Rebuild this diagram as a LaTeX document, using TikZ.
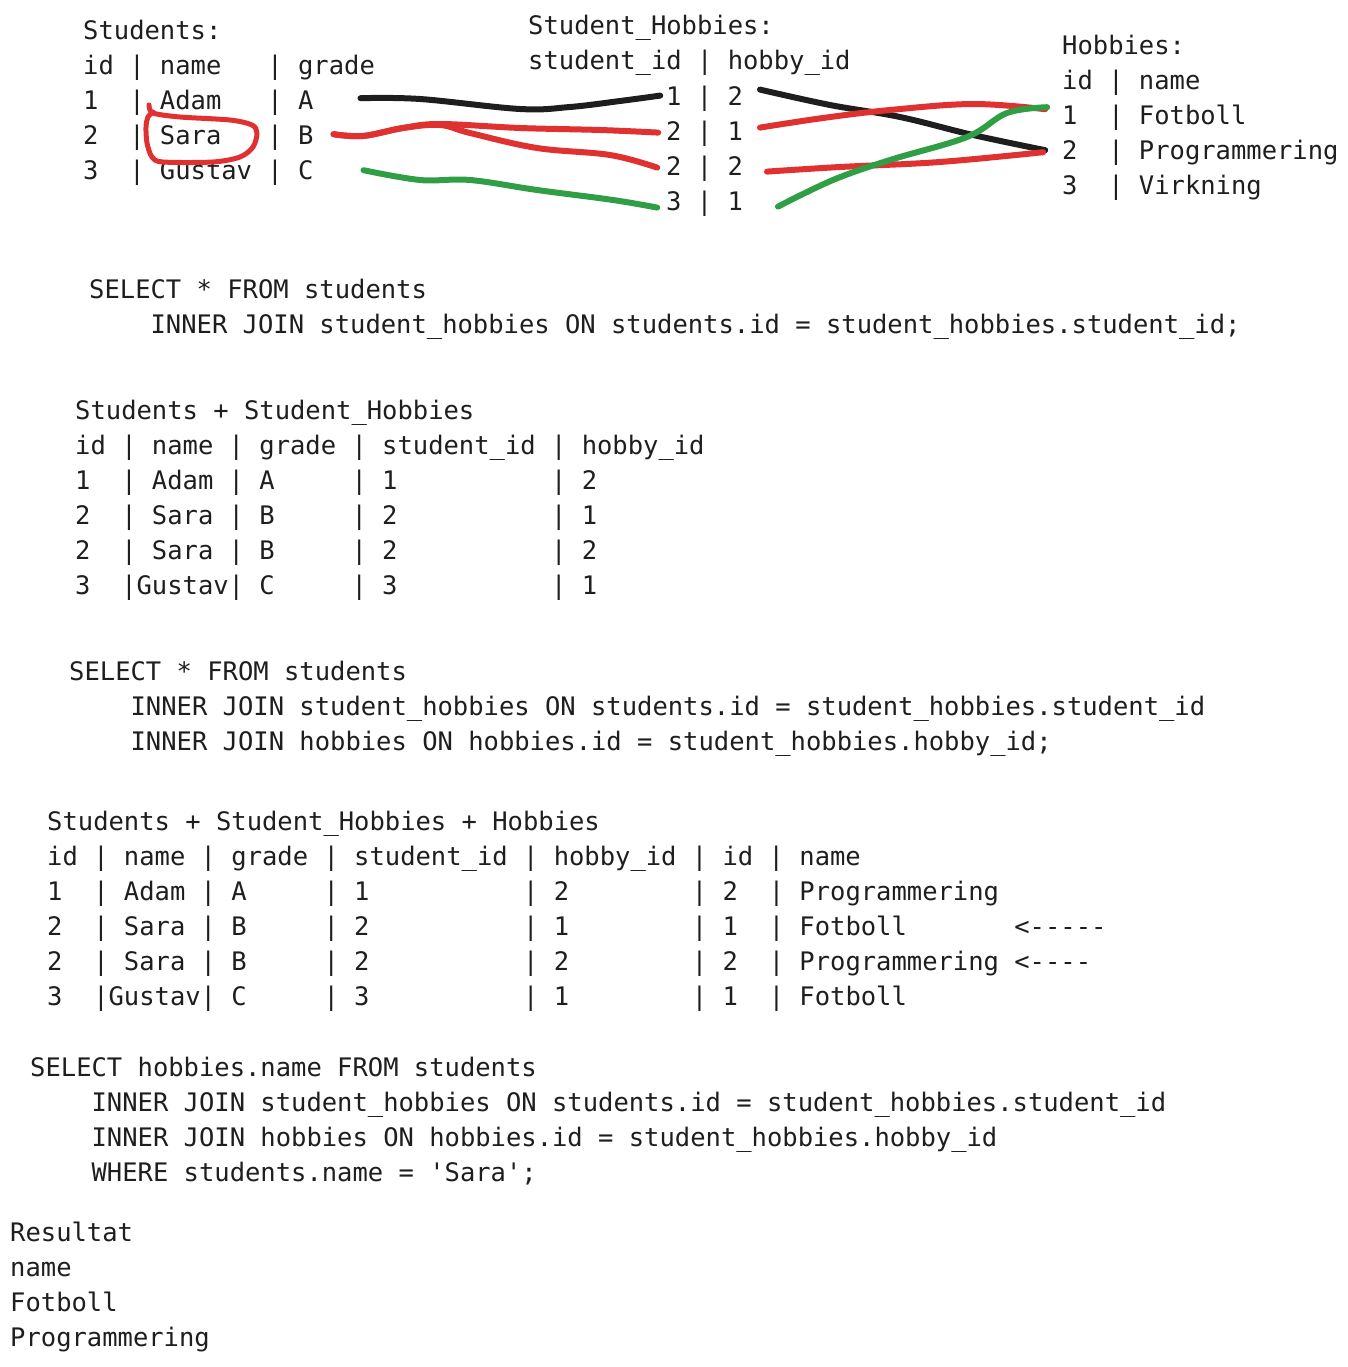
\documentclass[tikz,border=0pt]{standalone}
\usepackage{fontspec}
\setmonofont{DejaVu Sans Mono}
\usepackage{tikz}
\usetikzlibrary{matrix, positioning}
\definecolor{ink}{HTML}{1E1E1E}
\definecolor{inkred}{HTML}{E03131}
\definecolor{inkgreen}{HTML}{2F9E44}
\newcommand{\us}{\char95\relax}
\tikzset{
		line nodes/.style={
			anchor=base west,
			inner sep=0pt,
			outer sep=0pt,
			text height=26pt,
			text depth=9pt,
			text=ink,
			font=\ttfamily\fontsize{25.5}{35}\selectfont\frenchspacing
		},
		listing/.style={
			matrix of nodes,
			anchor=north west,
			inner sep=0pt,
			row sep=0pt,
			nodes={
				line nodes
			}
		},
		scribble/.style={
			line width=6pt,
			line cap=round,
			line join=round
		}
	}
\begin{document}
\begin{tikzpicture}[x=1pt, y=-1pt]
		\useasboundingbox (0,0) rectangle (1348,1367);
		\matrix (stu) [listing] at (83,13.5)
			{ Students: \\
			  id | name~~~| grade \\
			  1~~| Adam~~~| A \\
			  2~~| Sara~~~| B \\
			  3~~| Gustav | C \\ };
		\matrix (sh) [listing] at (528,8.5)
			{ Student\us Hobbies: \\
			  student\us id | hobby\us id \\ };
		\matrix (shr) [listing, below right=0pt and 138pt of sh.south west]
			{ 1 | 2 \\
			  2 | 1 \\
			  2 | 2 \\
			  3 | 1 \\ };
		\matrix (hob) [listing] at (1062,28.5)
			{ Hobbies: \\
			  id | name \\
			  1~~| Fotboll \\
			  2~~| Programmering \\
			  3~~| Virkning \\ };
		\matrix (q1) [listing] at (89,272.5)
			{ SELECT * FROM students \\
			  ~~~~INNER JOIN student\us hobbies ON students.id = student\us hobbies.student\us id; \\ };
		\matrix (j1) [listing] at (75,393.5)
			{ Students + Student\us Hobbies \\
			  id | name | grade | student\us id | hobby\us id \\
			  1~~| Adam | A~~~~~| 1~~~~~~~~~~| 2 \\
			  2~~| Sara | B~~~~~| 2~~~~~~~~~~| 1 \\
			  2~~| Sara | B~~~~~| 2~~~~~~~~~~| 2 \\
			  3~~|Gustav| C~~~~~| 3~~~~~~~~~~| 1 \\ };
		\matrix (q2) [listing] at (69,654.5)
			{ SELECT * FROM students \\
			  ~~~~INNER JOIN student\us hobbies ON students.id = student\us hobbies.student\us id \\
			  ~~~~INNER JOIN hobbies ON hobbies.id = student\us hobbies.hobby\us id; \\ };
		\matrix (j2) [listing] at (47,804.5)
			{ Students + Student\us Hobbies + Hobbies \\
			  id | name | grade | student\us id | hobby\us id | id | name \\
			  1~~| Adam | A~~~~~| 1~~~~~~~~~~| 2~~~~~~~~| 2~~| Programmering \\
			  2~~| Sara | B~~~~~| 2~~~~~~~~~~| 1~~~~~~~~| 1~~| Fotboll~~~~~~~<----- \\
			  2~~| Sara | B~~~~~| 2~~~~~~~~~~| 2~~~~~~~~| 2~~| Programmering <---- \\
			  3~~|Gustav| C~~~~~| 3~~~~~~~~~~| 1~~~~~~~~| 1~~| Fotboll \\ };
		\matrix (q3) [listing] at (30,1050.5)
			{ SELECT hobbies.name FROM students \\
			  ~~~~INNER JOIN student\us hobbies ON students.id = student\us hobbies.student\us id \\
			  ~~~~INNER JOIN hobbies ON hobbies.id = student\us hobbies.hobby\us id \\
			  ~~~~WHERE students.name = 'Sara'; \\ };
		\matrix (res) [listing] at (10,1215.5)
			{ Resultat \\
			  name \\
			  Fotboll \\
			  Programmering \\ };
		%strokes:
		\draw[scribble, ink] plot[smooth, tension=0.6] coordinates {([xshift=47pt,yshift=3pt]stu-3-1.east) (420,99) (520,109) (570,107) (620,101) ([xshift=-6pt,yshift=1pt]shr-1-1.west)};
		\draw[scribble, inkred] plot[smooth, tension=0.6] coordinates {([xshift=20pt,yshift=2pt]stu-4-1.east) (363,136) (403,128) (440,124) (520,128) (600,130) ([xshift=-8pt,yshift=-1pt]shr-2-1.west)};
		\draw[scribble, inkred] plot[smooth, tension=0.6] coordinates {([xshift=20pt,yshift=2pt]stu-4-1.east) (363,136) (403,128) (440,125) (470,133) (537,148) (610,155) ([xshift=-9pt,yshift=-1pt]shr-3-1.west)};
		\draw[scribble, inkgreen] plot[smooth, tension=0.6] coordinates {([xshift=50pt,yshift=1pt]stu-5-1.east) (420,180) (470,180) (537,190) (613,200) ([xshift=-9pt,yshift=-6pt]shr-4-1.west)};
		\draw[scribble, ink] plot[smooth, tension=0.6] coordinates {([xshift=17pt,yshift=7pt]shr-1-1.east) (830,105) (900,117) (973,135) ([xshift=-17pt,yshift=1pt]hob-4-1.west)};
		\draw[scribble, inkred] plot[smooth, tension=0.6] coordinates {([xshift=17pt,yshift=4pt]shr-2-1.east) (823,118) (890,110) (973,104) ([xshift=-17pt,yshift=7pt]hob-3-1.west)};
		\draw[scribble, inkred] plot[smooth, tension=0.6] coordinates {([xshift=24pt,yshift=-5pt]shr-3-1.east) (840,167) (940,162) ([xshift=-19pt,yshift=-1pt]hob-4-1.west)};
		\draw[scribble, inkgreen] plot[smooth, tension=0.6] coordinates {([xshift=35pt,yshift=-5pt]shr-4-1.east) (833,180) (890,160) (967,137) (1007,113) ([xshift=-15pt,yshift=9pt]hob-3-1.west)};
		%circle round Sara:
		\draw[scribble, inkred, line width=5pt] plot[smooth, tension=0.5] coordinates {(149,105) (153,113) (180,117) (230,120) (252,125) (257,133) (253,147) (240,157) (213,162) (163,162) (152,157) (147,143) (146,127) (148,117) (153,112)};
	\end{tikzpicture}
\end{document}
